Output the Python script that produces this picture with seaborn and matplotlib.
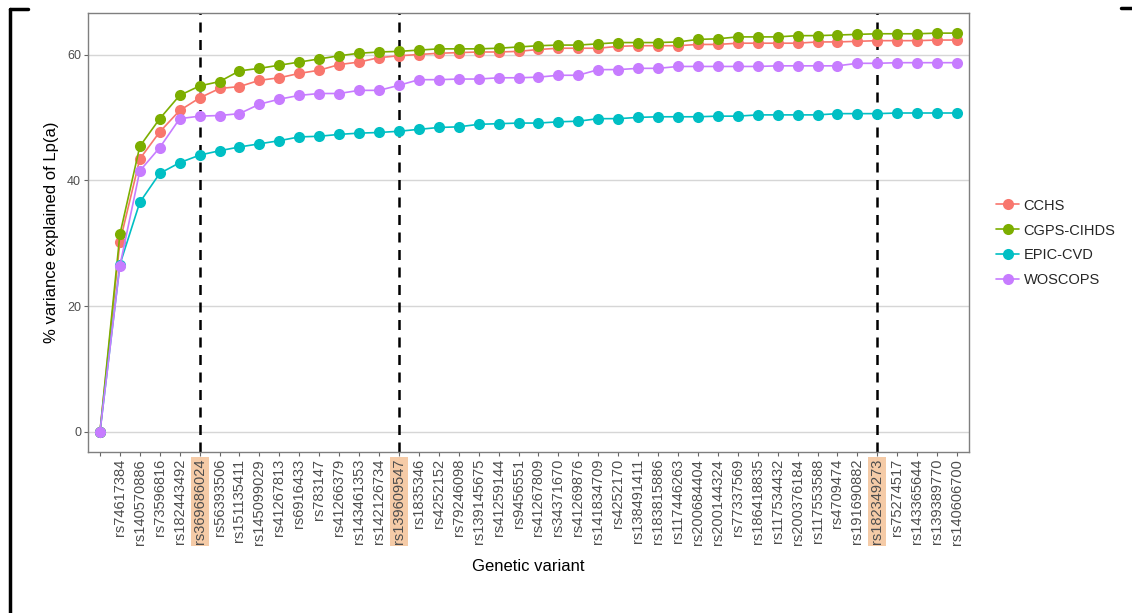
import matplotlib
matplotlib.use("Agg")
import matplotlib.pyplot as plt
from matplotlib.lines import Line2D
import seaborn as sns
import pandas as pd
import numpy as np

variants = ["", "rs74617384", "rs140570886", "rs73596816", "rs182443492", "rs369686024",
            "rs56393506", "rs151135411", "rs145099029", "rs41267813", "rs6916433",
            "rs783147", "rs41266379", "rs143461353", "rs142126734", "rs139609547",
            "rs1835346", "rs4252152", "rs79246098", "rs139145675", "rs41259144",
            "rs9456551", "rs41267809", "rs34371670", "rs41269876", "rs141834709",
            "rs4252170", "rs138491411", "rs183815886", "rs117446263", "rs200684404",
            "rs200144324", "rs77337569", "rs186418835", "rs117534432", "rs200376184",
            "rs117553588", "rs4709474", "rs191690882", "rs182349273", "rs75274517",
            "rs143365644", "rs139389770", "rs140606700"]

cchs = [0, 30.2, 43.4, 47.7, 51.1, 53.1, 54.6, 54.9, 55.9, 56.3, 57.0,
        57.5, 58.4, 58.8, 59.5, 59.8, 60.0, 60.2, 60.3, 60.4, 60.4,
        60.5, 60.8, 61.0, 61.0, 61.0, 61.3, 61.4, 61.4, 61.4, 61.6,
        61.6, 61.8, 61.8, 61.8, 61.8, 62.0, 62.0, 62.1, 62.2, 62.2,
        62.2, 62.3, 62.3]
cgps = [0, 31.4, 45.4, 49.8, 53.5, 55.0, 55.7, 57.4, 57.8, 58.3, 58.8,
        59.3, 59.8, 60.2, 60.4, 60.5, 60.7, 60.9, 60.9, 60.9, 61.0,
        61.2, 61.4, 61.5, 61.5, 61.7, 61.9, 61.9, 61.9, 62.0, 62.4,
        62.5, 62.8, 62.8, 62.8, 63.0, 63.0, 63.1, 63.2, 63.3, 63.3,
        63.3, 63.4, 63.4]
epic = [0, 26.6, 36.5, 41.1, 42.8, 44.0, 44.7, 45.3, 45.8, 46.3, 46.9,
        47.0, 47.3, 47.5, 47.6, 47.8, 48.1, 48.4, 48.5, 48.9, 49.0,
        49.1, 49.1, 49.3, 49.4, 49.8, 49.8, 50.0, 50.1, 50.1, 50.1,
        50.2, 50.2, 50.4, 50.4, 50.4, 50.4, 50.6, 50.6, 50.6, 50.7,
        50.7, 50.7, 50.7]
woscops = [0, 26.4, 41.5, 45.2, 49.8, 50.2, 50.3, 50.6, 52.1, 52.9, 53.5,
           53.8, 53.8, 54.3, 54.3, 55.1, 56.0, 56.0, 56.1, 56.1, 56.3,
           56.3, 56.4, 56.7, 56.7, 57.6, 57.6, 57.8, 57.8, 58.1, 58.1,
           58.1, 58.1, 58.1, 58.2, 58.2, 58.2, 58.2, 58.6, 58.6, 58.7,
           58.7, 58.7, 58.7]

cohorts = ["CCHS", "CGPS-CIHDS", "EPIC-CVD", "WOSCOPS"]
colors = ["#F8766D", "#7CAE00", "#00BFC4", "#C77CFF"]
highlight_idx = [5, 15, 39]

rows = []
for name, vals in zip(cohorts, [cchs, cgps, epic, woscops]):
    for i, v in enumerate(vals):
        rows.append({"pos": i, "value": v, "cohort": name})
df = pd.DataFrame(rows)

sns.set_theme(style="white")
plt.rcParams["font.family"] = ["Liberation Sans", "DejaVu Sans"]

fig = plt.figure(figsize=(11.32, 6.13), dpi=100)
ax = fig.add_axes([88/1132, 1-452/613, (969-88)/1132, (452-13)/613])

for xi in highlight_idx:
    ax.axvline(xi, color="black", linestyle=(0, (4, 3)), linewidth=1.8, zorder=1)

sns.lineplot(data=df, x="pos", y="value", hue="cohort", hue_order=cohorts,
             palette=colors, marker="o", markersize=8, markeredgewidth=0,
             linewidth=1.2, ax=ax, legend=False, zorder=3)

n = len(variants)
ax.set_xlim(-0.6, n - 1 + 0.6)
ax.set_ylim(-3.2, 66.6)
ax.set_yticks([0, 20, 40, 60])
ax.yaxis.grid(True, color="#D6D6D6", linewidth=1.0)
ax.xaxis.grid(False)
ax.set_axisbelow(True)
ax.set_xticks(range(n))
ax.set_xticklabels(variants, rotation=90, fontsize=10.5, color="#4D4D4D")
for t in ax.get_yticklabels():
    t.set_fontsize(9)
    t.set_color("#4D4D4D")
ax.tick_params(axis="both", length=3, width=0.8, color="#666666", bottom=True, left=True, pad=2)
for idx in highlight_idx:
    ax.get_xticklabels()[idx].set_bbox(dict(facecolor="#F5CBA7", edgecolor="none", pad=1.5))
for s in ax.spines.values():
    s.set_color("#7F7F7F")
    s.set_linewidth(1.0)

ax.set_xlabel("Genetic variant", fontsize=12, color="black", labelpad=10)
ax.set_ylabel("% variance explained of Lp(a)", fontsize=12, color="black", labelpad=6)

handles = [Line2D([0], [0], color=c, marker="o", markersize=8, markeredgewidth=0, linewidth=1.2)
           for c in colors]
fig.legend(handles, cohorts, loc="center left", bbox_to_anchor=(990/1132, 1-243/613),
           frameon=False, fontsize=10.5, handlelength=1.6, handletextpad=0.3,
           labelspacing=0.75, borderaxespad=0)

# page corner marks
fig.add_artist(Line2D([10/1132, 10/1132], [0, 1-9/613], color="black", linewidth=2.5,
                      transform=fig.transFigure))
fig.add_artist(Line2D([10/1132, 28/1132], [1-9/613, 1-9/613], color="black", linewidth=2.5,
                      transform=fig.transFigure))
fig.add_artist(Line2D([1121/1132, 1132/1132], [1-8/613, 1-8/613], color="black", linewidth=2.5,
                      transform=fig.transFigure))

fig.savefig("out.png", dpi=100)
